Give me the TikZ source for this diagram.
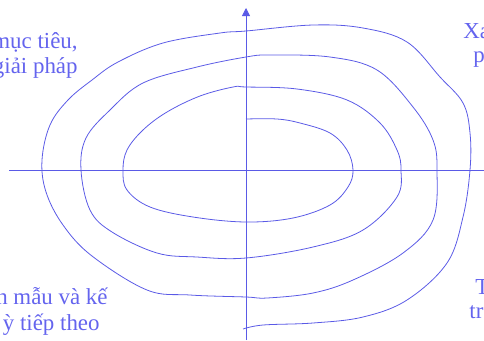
\documentclass[tikz,border=0pt]{standalone}
\usepackage{fontspec}
\setmainfont{Liberation Serif}
\usetikzlibrary{arrows.meta}
\definecolor{cline}{HTML}{5A5AE6}
\definecolor{ctext}{HTML}{6464EE}
\tikzset{
  every picture/.style={line width=0.8pt},
  axis/.style={draw=cline, line width=0.8pt},
  spiral/.style={draw=cline, line width=0.8pt, line join=round},
  note/.style={font=\fontsize{23}{26}\selectfont, text=ctext, inner sep=0pt},
}

\begin{document}
\begin{tikzpicture}[x=1bp, y=-1bp]
  \useasboundingbox (0,0) rectangle (484,340);
  \clip (0,0) rectangle (484,340);
  % axes
  \coordinate (xleft) at (9,170);
  \coordinate (xright) at (484,170);
  \coordinate (ybot) at (246,340);
  \coordinate (ytop) at (246,8);
  \draw[axis] (xleft) -- (xright);
  \draw[axis, -{Triangle[length=8bp, width=8bp]}] (ybot) -- (ytop);
  % spiral
  \draw[spiral] plot[smooth, tension=0.6] coordinates {
    (246,119) (277,119) (300,123) (330,133) (347,150) (353,170) (348,187)
    (330,205) (293,218) (246,222) (193,217) (150,207) (127,190) (123,170)
    (127,150) (143,130) (167,112) (200,96) (233,87) (246,87) (297,89)
    (347,100) (380,123) (397,150) (401,170) (397,197) (363,230) (313,247)
    (246,258) (197,257) (157,253) (112,232) (90,210) (81,170) (86,138)
    (110,110) (143,83) (197,67) (246,57) (270,55) (330,57) (377,70)
    (413,107) (433,140) (437,170) (433,220) (403,253) (353,280) (313,293)
    (267,298) (246,297) (190,295) (147,290) (92,256) (63,225) (46,192)
    (42,160) (50,125) (68,100) (92,80) (118,62) (163,43) (220,33) (246,31)
    (313,25) (363,28) (407,42) (440,77) (463,103) (470,133) (470,170)
    (463,217) (447,263) (407,300) (363,317) (313,323) (263,325) (243,329)};
  % quadrant labels
  \node[note, anchor=base east] (goal1) at (78,48) {mục tiêu,};
  \node[note, anchor=base east] (goal2) at (78,73) {giải pháp};
  \node[note, anchor=base west] (risk1) at (463,38) {Xa};
  \node[note, anchor=base west] (risk2) at (473,62) {p};
  \node[note, anchor=base east] (plan1) at (108,304) {n mẫu và kế};
  \node[note, anchor=base east] (plan2) at (100,330) {ỳ tiếp theo};
  \node[note, anchor=base west] (dev1) at (475,294) {T};
  \node[note, anchor=base west] (dev2) at (469,318) {tr};
\end{tikzpicture}
\end{document}
